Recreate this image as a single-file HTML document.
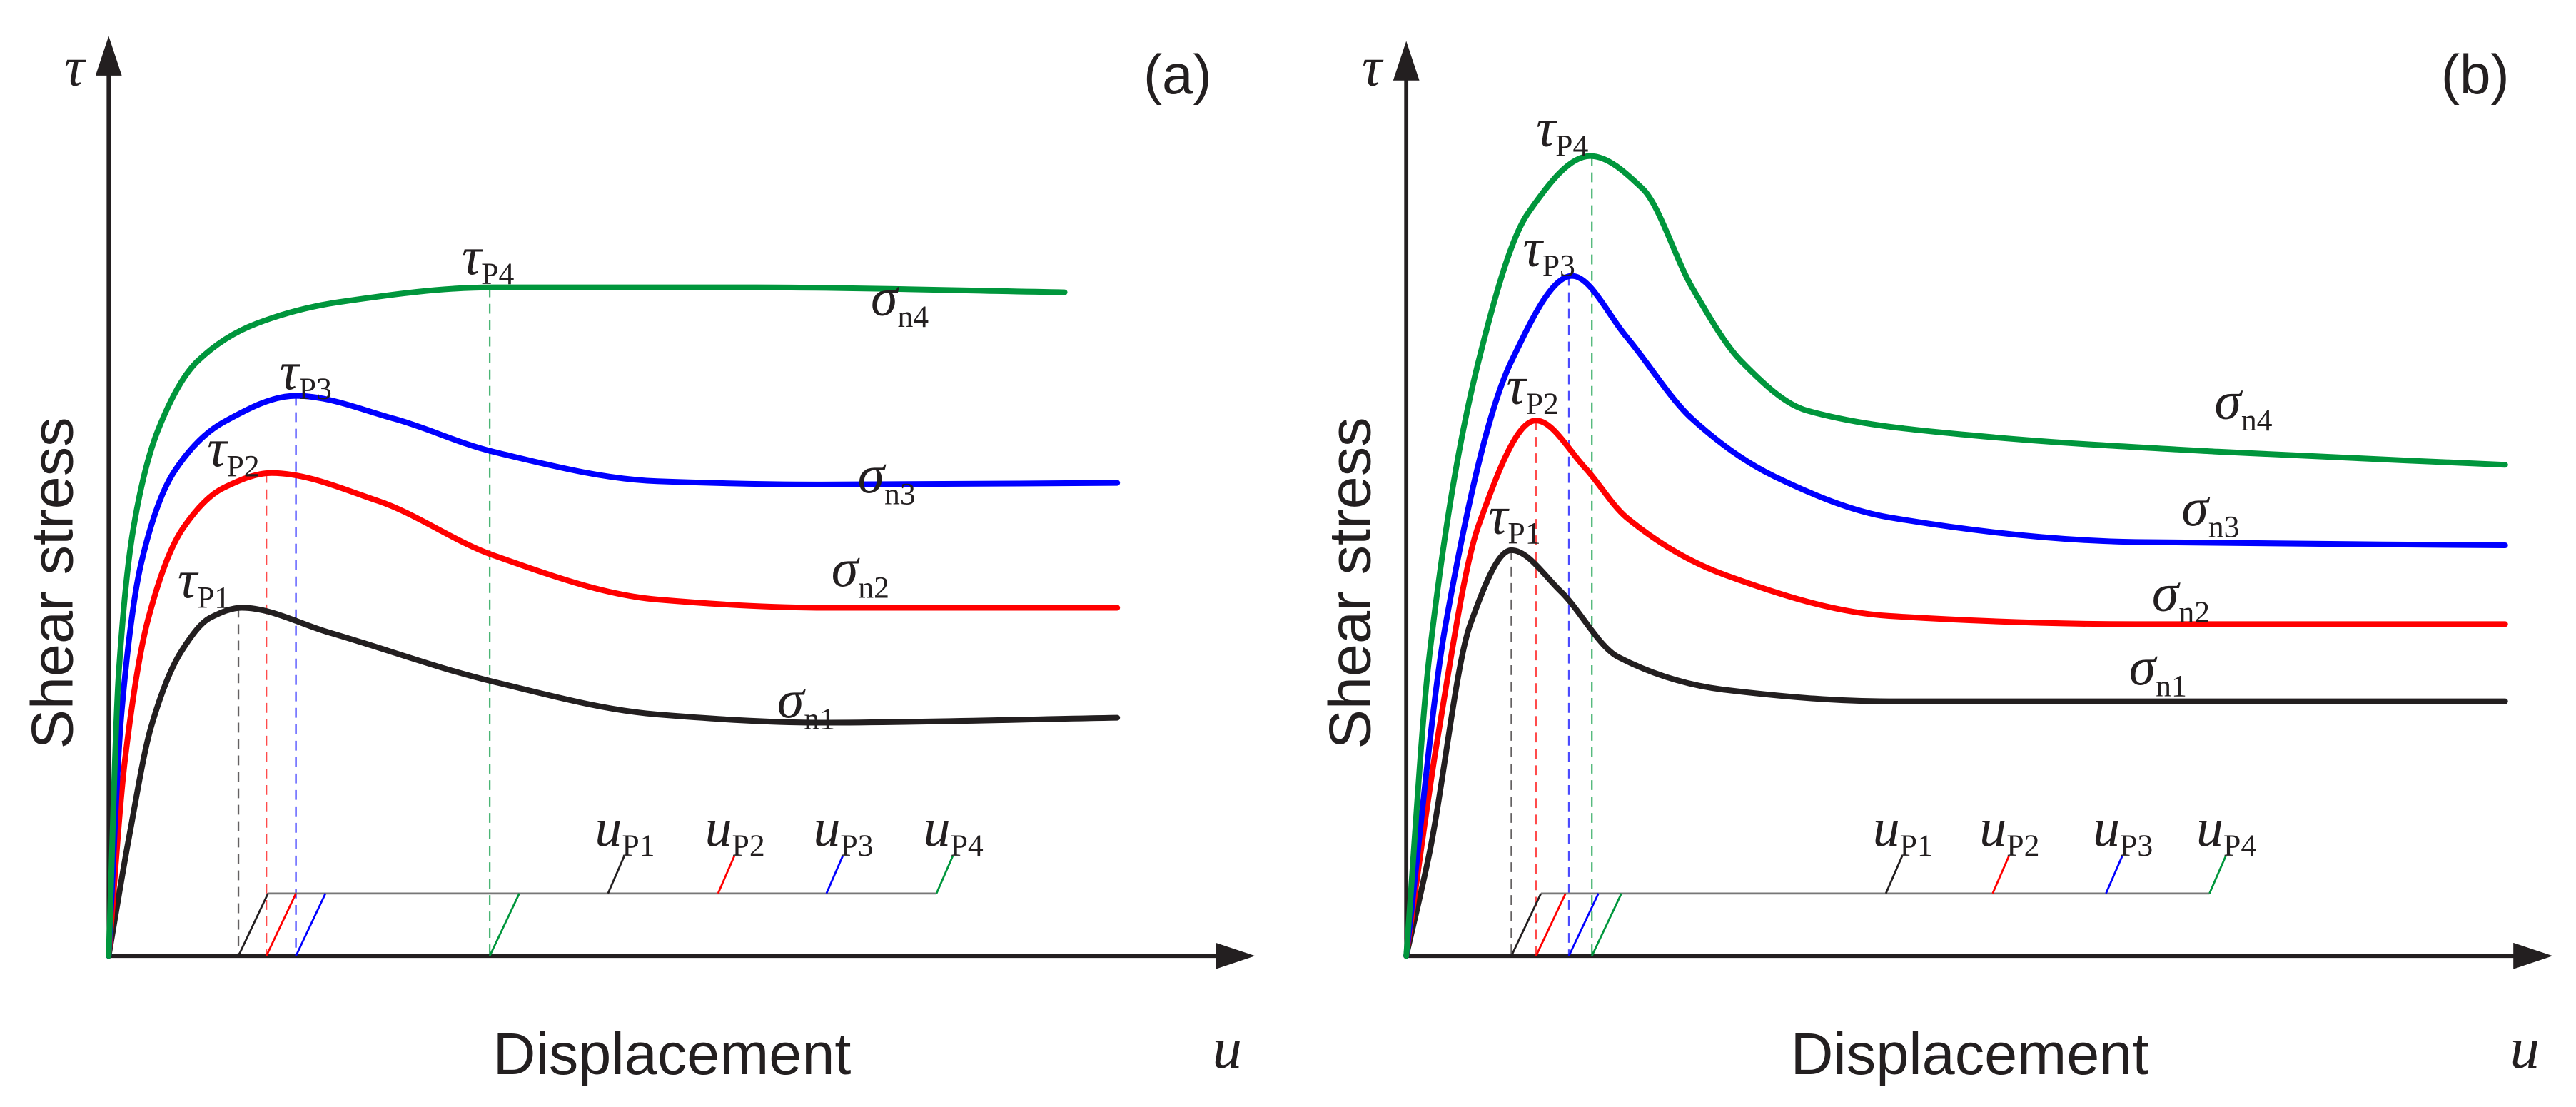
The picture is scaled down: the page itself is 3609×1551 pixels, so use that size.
<!DOCTYPE html>
<html><head><meta charset="utf-8"><style>
html,body{margin:0;padding:0;background:#fff}
svg{display:block}
.sans{font-family:"Liberation Sans",sans-serif;fill:#231f20}
.ser{font-family:"Liberation Serif",serif;fill:#231f20}
</style></head><body>
<svg id="fig" width="3609" height="1551" viewBox="0 0 1568 674" xmlns="http://www.w3.org/2000/svg">
<defs><marker id="ar" markerWidth="24" markerHeight="16" refX="2" refY="8" orient="auto" markerUnits="userSpaceOnUse" viewBox="0 0 24 16"><path d="M0,0 L24,8 L0,16 z" fill="#231f20"/></marker></defs>
</svg>
<script>
// Panel (a) data: displacement (x) and shear stress (y) in arbitrary units
const aX1=[0,12,26,44,62,81,134,234,334,434,614];
const aY1=[0,70,140,185,206,212,197,167,147,142,145];
const aX2=[0,10,24,45,70,99,164,234,334,434,614];
const aY2=[0,120,205,260,285,294,277,244,217,212,212];
const aX3=[0,8,20,40,70,114,174,234,334,434,614];
const aY3=[0,150,240,295,325,341,327,307,289,287,288];
const aX4=[0,6,15,30,54,90,140,234,394,582];
const aY4=[0,170,260,320,362,385,398,407,407,404];
const aPeakX=[79,96,114,232];
const aPeakY=[212,294,341,407];
const aTickX=[304,371,437,504];
// Panel (b) data
const bX1=[0,14,39,64,94,129,194,294,669];
const bY1=[0,62,202,247,222,182,162,155,155];
const bX2=[0,19,44,79,109,134,194,294,444,669];
const bY2=[0,132,262,326,297,267,232,207,202,202];
const bX3=[0,24,64,101,134,174,224,294,444,669];
const bY3=[0,202,362,414,377,327,292,267,252,250];
const bX4=[0,14,44,74,112,144,174,204,244,344,494,669];
const bY4=[0,182,362,452,487,467,407,362,332,317,307,299];
const bPeakX=[64,79,99,113];
const bPeakY=[247,326,414,487];
const bTickX=[292,357,426,489];
const labels=["1","2","3","4"];
const colors=["#231f20","#ff0000","#0000ff","#00963c"];

const NS="http://www.w3.org/2000/svg";
const svg=document.getElementById('fig');
function el(t,a,parent){const e=document.createElementNS(NS,t);for(const k in a)e.setAttribute(k,a[k]);(parent||svg).appendChild(e);return e;}
// monotone cubic (Fritsch-Carlson) in screen coords
function smooth(p){
  const n=p.length, dx=[], m=[], t=new Array(n);
  for(let i=0;i<n-1;i++){dx.push(p[i+1][0]-p[i][0]);m.push((p[i+1][1]-p[i][1])/dx[i]);}
  t[0]=m[0]; t[n-1]=m[n-2];
  for(let i=1;i<n-1;i++){ if(m[i-1]*m[i]<=0) t[i]=0; else { const w1=2*dx[i]+dx[i-1], w2=dx[i]+2*dx[i-1]; t[i]=(w1+w2)/(w1/m[i-1]+w2/m[i]); } }
  let d=`M${p[0][0]},${p[0][1]}`;
  for(let i=0;i<n-1;i++){const h=dx[i]/3;d+=` C${p[i][0]+h},${p[i][1]+t[i]*h} ${p[i+1][0]-h},${p[i+1][1]-t[i+1]*h} ${p[i+1][0]},${p[i+1][1]}`;}
  return d;
}

function panel(ox,tag,series,peakX,peakY,tickX,lowShift,sigPos,tauOff,arrowTop){
  const g=el('g',{});
  
  
  const sx=v=>ox+v, sy=v=>582-v;
  const yAx=el('line',{x1:ox,y1:582,x2:ox,y2:arrowTop+22,stroke:'#231f20','stroke-width':2.5,'marker-end':'url(#ar)'},g);
  
  
  const xAx=el('line',{x1:ox,y1:582,x2:ox+676,y2:582,stroke:'#231f20','stroke-width':2.5,'marker-end':'url(#ar)'},g);
  
  
  for(let i=0;i<4;i++){
    const d=el('line',{x1:sx(peakX[i]),y1:sy(peakY[i]),x2:sx(peakX[i]),y2:582,stroke:colors[i],'stroke-width':1,'stroke-dasharray':'6,4',opacity:0.7},g);
    
    
  }
  for(let i=0;i<4;i++){
    const pts=series[i][0].map((x,j)=>[sx(x),sy(series[i][1][j])]);
    const p=el('path',{d:smooth(pts),fill:'none',stroke:colors[i],'stroke-width':3.5,'stroke-linecap':'round'},g);
    
    
  }
  const hx1=sx(peakX[0])+18, hx2=sx(tickX[3]);
  const h=el('line',{x1:hx1,y1:544,x2:hx2,y2:544,stroke:'#777','stroke-width':1.2},g);
  
  
  for(let i=0;i<4;i++){
    const lx=sx(peakX[i]);
    const s=el('line',{x1:lx,y1:582,x2:lx+18,y2:544,stroke:colors[i],'stroke-width':1.2},g);
    
    
    const tx=sx(tickX[i]);
    const t=el('line',{x1:tx,y1:544,x2:tx+10,y2:521,stroke:colors[i],'stroke-width':1.2},g);
    
    
    const ul=el('text',{x:tx-8,y:515,class:'ser','font-size':33,'font-style':'italic'},g);
    ul.innerHTML='u<tspan font-size="19" font-style="normal" dy="6">P'+labels[i]+'</tspan>';
    
    
    const tl=el('text',{x:sx(peakX[i])+tauOff[i][0],y:sy(peakY[i])+tauOff[i][1],class:'ser','font-size':33,'font-style':'italic'},g);
    tl.innerHTML='τ<tspan font-size="19" font-style="normal" dy="6">P'+labels[i]+'</tspan>';
    
    
    const sl=el('text',{x:sigPos[i][0],y:sigPos[i][1],class:'ser','font-size':33,'font-style':'italic'},g);
    sl.innerHTML='σ<tspan font-size="19" font-style="normal" dy="7">n'+labels[i]+'</tspan>';
    
    
  }
  const tau=el('text',{x:ox-27,y:52,class:'ser','font-size':34,'font-style':'italic'},g);tau.textContent='τ';
  
  
  const u=el('text',{x:ox+672,y:650,class:'ser','font-size':36,'font-style':'italic'},g);u.textContent='u';
  
  
  const yt=el('text',{x:0,y:0,class:'sans','font-size':36,'text-anchor':'middle',transform:`translate(${ox-22},355) rotate(-90)`},g);yt.textContent='Shear stress';
  
  
  const xt=el('text',{x:ox+343,y:654,class:'sans','font-size':36,'text-anchor':'middle'},g);xt.textContent='Displacement';
  
  
  const pl=el('text',{x:ox+630,y:57,class:'sans','font-size':34},g);pl.textContent='('+tag+')';
  
  
}
panel(66,'a',[[aX1,aY1],[aX2,aY2],[aX3,aY3],[aX4,aY4]],aPeakX,aPeakY,aTickX,0,
  [[473,437],[506,357],[522,300],[530,192]],[[-37,-6],[-36,-4],[-10,-4],[-17,-8]],22);
panel(856,'b',[[bX1,bY1],[bX2,bY2],[bX3,bY3],[bX4,bY4]],bPeakX,bPeakY,bTickX,0,
  [[1296,417],[1310,372],[1328,320],[1348,255]],[[-14,-10],[-18,-10],[-28,-6],[-34,-6]],25);
</script>
</body></html>
